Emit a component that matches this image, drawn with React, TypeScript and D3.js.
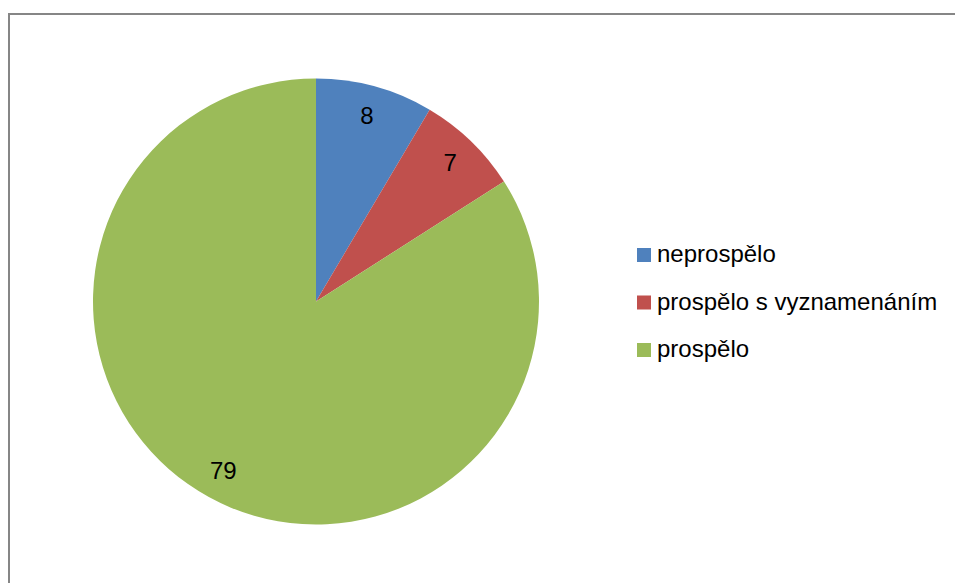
import React, { useEffect, useRef } from 'react';
import * as d3 from 'd3';

type Slice = {
  category: string;
  value: number;
};

const categories = ['neprospělo', 'prospělo s vyznamenáním', 'prospělo'];
const values = [8, 7, 79];
const colors = ['#4F81BD', '#C0504D', '#9BBB59'];

const App: React.FC = () => {
  const ref = useRef<SVGSVGElement | null>(null);

  useEffect(() => {
    if (!ref.current) return;
    const width = 955;
    const height = 583;
    const cx = 316;
    const cy = 301.5;
    const radius = 223;
    const font = '"Liberation Sans", Arial, sans-serif';

    const data: Slice[] = categories.map((c, i) => ({ category: c, value: values[i] }));

    const svg = d3.select(ref.current);
    svg.selectAll('*').remove();
    svg.attr('width', width).attr('height', height);

    // chart frame (right and bottom edges fall outside the picture)
    svg.append('path')
      .attr('d', `M9,${height} V14 H${width}`)
      .attr('fill', 'none')
      .attr('stroke', '#868686')
      .attr('stroke-width', 2);

    const color = d3.scaleOrdinal<string, string>().domain(categories).range(colors);

    const pie = d3.pie<Slice>().value(d => d.value).sort(null);
    const arc = d3.arc<d3.PieArcDatum<Slice>>().innerRadius(0).outerRadius(radius);
    const labelArc = d3.arc<d3.PieArcDatum<Slice>>()
      .innerRadius(radius * 0.865)
      .outerRadius(radius * 0.865);

    const g = svg.append('g').attr('transform', `translate(${cx},${cy})`);
    const arcs = pie(data);

    g.selectAll('path.slice')
      .data(arcs)
      .enter()
      .append('path')
      .attr('class', 'slice')
      .attr('d', arc)
      .attr('fill', d => color(d.data.category));

    g.selectAll('text.label')
      .data(arcs)
      .enter()
      .append('text')
      .attr('class', 'label')
      .attr('transform', d => {
        const [x, y] = labelArc.centroid(d);
        return `translate(${x},${y})`;
      })
      .attr('text-anchor', 'middle')
      .attr('dy', '0.35em')
      .attr('font-family', font)
      .attr('font-size', 24)
      .attr('fill', '#000')
      .text(d => String(d.data.value));

    // legend
    const legend = svg.append('g').attr('transform', 'translate(637,255)');
    const row = legend.selectAll('g')
      .data(categories)
      .enter()
      .append('g')
      .attr('transform', (_, i) => `translate(0,${i * 47.5})`);

    row.append('rect')
      .attr('x', 0)
      .attr('y', -7)
      .attr('width', 14)
      .attr('height', 14)
      .attr('fill', d => color(d));

    row.append('text')
      .attr('x', 20)
      .attr('y', 7)
      .attr('font-family', font)
      .attr('font-size', 24)
      .attr('fill', '#000')
      .text(d => d);
  }, []);

  return (
    <svg
      ref={ref}
      style={{ position: 'absolute', left: 0, top: 0, background: '#fff' }}
    />
  );
};

export default App;
